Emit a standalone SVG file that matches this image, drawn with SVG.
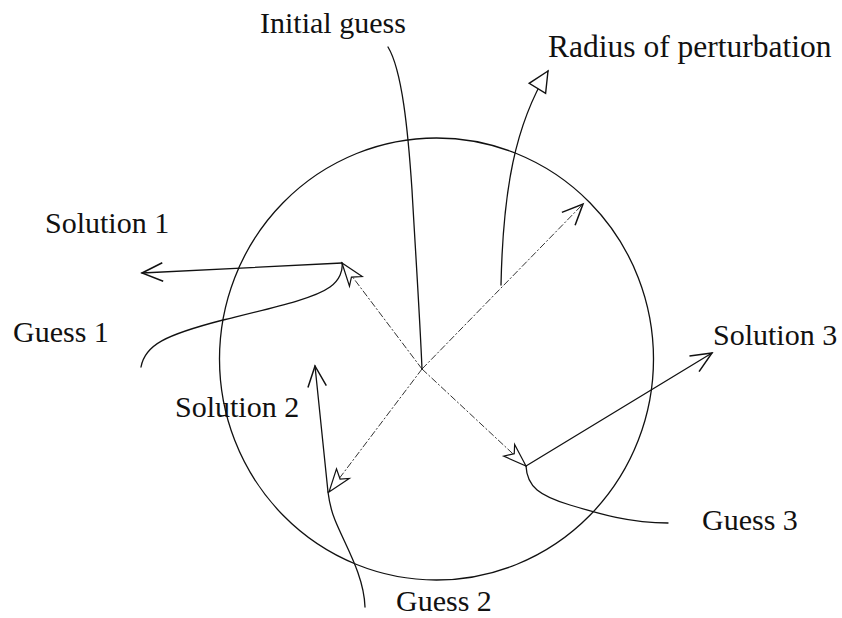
<svg xmlns="http://www.w3.org/2000/svg" width="842" height="618" viewBox="0 0 842 618">
<style>
  .lbl { font-family: "Liberation Serif", "Times New Roman", serif; font-size: 30px; fill: #111; }
  .curve { fill: none; stroke: #111; stroke-width: 1.3; stroke-linecap: round; }
  .spoke { fill: none; stroke: #333; stroke-width: 1; stroke-dasharray: 7 2 2 2; }
  .ring { fill: none; stroke: #111; stroke-width: 1.3; }
</style>
<defs>
  <marker id="vee" markerUnits="userSpaceOnUse" orient="auto" markerWidth="30" markerHeight="30" refX="0" refY="0" viewBox="-22 -12 26 24" overflow="visible">
    <path d="M-18,-8 L0,0 L-18,8" fill="none" stroke="#111" stroke-width="1.3" stroke-linejoin="miter"/>
  </marker>
  <marker id="notch" markerUnits="userSpaceOnUse" orient="auto" markerWidth="30" markerHeight="30" refX="0" refY="0" viewBox="-26 -12 30 24" overflow="visible">
    <path d="M0,0 L-23,-8 L-17,-1 L-23,8 Z" fill="#fff" stroke="#111" stroke-width="1.2" stroke-linejoin="miter"/>
  </marker>
  <marker id="tri" markerUnits="userSpaceOnUse" orient="auto" markerWidth="30" markerHeight="30" refX="0" refY="0" viewBox="-24 -12 28 24" overflow="visible">
    <path d="M0,0 L-19,-9 L-19,9 Z" fill="#fff" stroke="#111" stroke-width="1.3" stroke-linejoin="miter"/>
  </marker>
</defs>
<rect width="842" height="618" fill="#fff"/>

<ellipse id="perturbation-circle" class="ring" cx="436.5" cy="359" rx="217" ry="221"/>

<g id="connectors">
  <path class="spoke" d="M422,369 L342,263" marker-end="url(#notch)"/>
  <path class="spoke" d="M422,369 L583,204" marker-end="url(#vee)"/>
  <path class="spoke" d="M422,369 L329,492" marker-end="url(#notch)"/>
  <path class="spoke" d="M422,369 L526,466" marker-end="url(#notch)"/>

  <path class="curve" d="M388,47 C 402,70 408,130 412,190 C 416,260 420,320 422,369"/>
  <path class="curve" d="M501,285 C 503,190 515,125 548,71" marker-end="url(#tri)"/>
  <path class="curve" d="M342,263 L142,273" marker-end="url(#vee)"/>
  <path class="curve" d="M141,367 C 145,345 165,335 223,320 C 280,306 315,298 330,287 C 340,280 343,270 342,263"/>
  <path class="curve" d="M328,492 L315,366" marker-end="url(#vee)"/>
  <path class="curve" d="M365,607 C 364,575 345,545 335,520 C 330,508 329,500 328,492"/>
  <path class="curve" d="M526,466 L712,353" marker-end="url(#vee)"/>
  <path class="curve" d="M526,466 C 527,487 540,496 570,505 C 600,514 630,523 668,523"/>
</g>

<g id="initial-guess"><text class="lbl" x="260" y="33">Initial guess</text></g>
<g id="radius-of-perturbation"><text class="lbl" x="548" y="57" style="font-size:31.5px">Radius of perturbation</text></g>
<g id="solution-1"><text class="lbl" x="45" y="233">Solution 1</text></g>
<g id="guess-1"><text class="lbl" x="13" y="342">Guess 1</text></g>
<g id="solution-2"><text class="lbl" x="175" y="417">Solution 2</text></g>
<g id="solution-3"><text class="lbl" x="713" y="345">Solution 3</text></g>
<g id="guess-3"><text class="lbl" x="702" y="530">Guess 3</text></g>
<g id="guess-2"><text class="lbl" x="396" y="611">Guess 2</text></g>
</svg>
